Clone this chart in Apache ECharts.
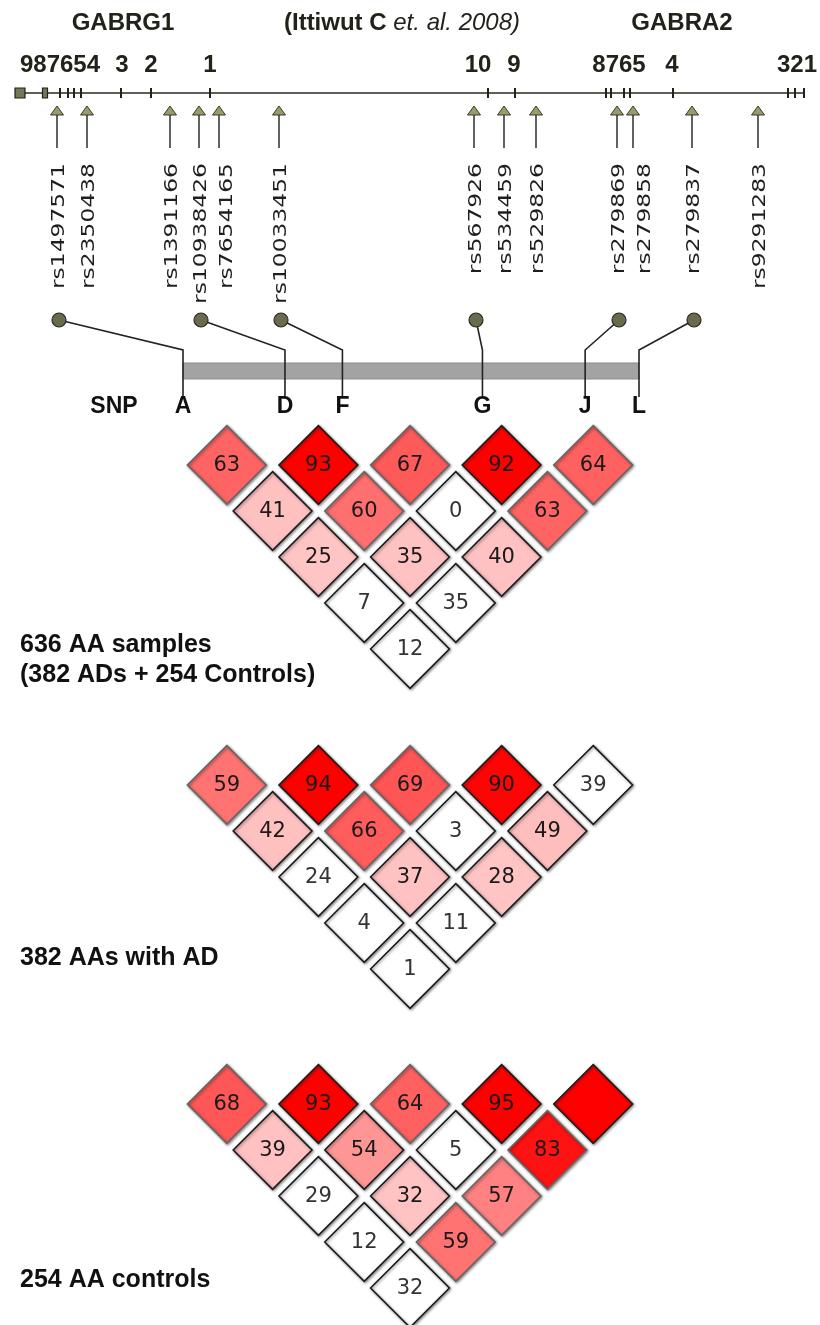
<!DOCTYPE html>
<html>
<head>
<meta charset="UTF-8">
<title>GABRG1 / GABRA2 LD</title>
<script src="https://cdn.jsdelivr.net/npm/echarts@6/dist/echarts.min.js"></script>
<style>
html, body { margin: 0; padding: 0; background: #fff; }
#main { width: 820px; height: 1325px; }
</style>
</head>
<body>
<div id="main"></div>
<script>
// exons on the track (track axis units), widths in the same units
var exonPos = [20, 45, 60, 68, 74, 81, 121, 151, 210, 488, 515, 606, 611, 624, 630, 673, 788, 795, 804];
var exonLen = [10, 5, 2, 2, 2, 2, 2, 2, 2, 2, 2, 2, 2, 2, 2, 2, 2, 2, 2];
var exonGroups = ['987654', '3', '2', '1', '10', '9', '8765', '4', '321'];
var exonGroupPos = [60, 122, 151, 210, 478, 514, 619, 672, 797];

var snpNames = ['rs1497571', 'rs2350438', 'rs1391166', 'rs10938426', 'rs7654165', 'rs10033451',
  'rs567926', 'rs534459', 'rs529826', 'rs279869', 'rs279858', 'rs279837', 'rs9291283'];
var snpPos = [57, 87, 170, 199, 219, 279, 474, 504, 536, 617, 633, 692, 758];

// SNPs kept for the LD plots
var pickedIdx = [0, 3, 5, 6, 9, 11];
var pickedNames = ['A', 'D', 'F', 'G', 'J', 'L'];

// D' x100, row 1 = neighbouring markers ... row 5 = A-L ; 100 = D' 1 (no number)
var dpAll = [[63, 93, 67, 92, 64], [41, 60, 0, 63], [25, 35, 40], [7, 35], [12]];
var sigAll = [[1, 1, 1, 1, 1], [1, 1, 0, 1], [1, 1, 1], [0, 0], [0]];   // 1 = LOD >= 2
var dpAD = [[59, 94, 69, 90, 39], [42, 66, 3, 49], [24, 37, 28], [4, 11], [1]];
var sigAD = [[1, 1, 1, 1, 0], [1, 1, 0, 1], [0, 1, 1], [0, 0], [0]];
var dpCtrl = [[68, 93, 64, 95, 100], [39, 54, 5, 83], [29, 32, 57], [12, 59], [32]];
var sigCtrl = [[1, 1, 1, 1, 1], [1, 1, 0, 1], [0, 1, 1], [0, 1], [0]];

var groupLabels = [['636 AA samples', '(382 ADs + 254 Controls)'], ['382 AAs with AD'], ['254 AA controls']];

// ---- layout
var GENE_Y = 93, EXON_H = 10, EXON_LABEL_Y = 65;
var ARROW_TOP = 106, ARROW_BASE = 115, STEM_END = 148, LABEL_TOP = 163;
var DOT_Y = 320, BEND_Y = 350, BAR_TOP = 363, BAR_BOT = 379, LETTER_Y = 407;
var BAR_L = 183, BAR_R = 639;
var LD_TOPS = [419, 739, 1058];
var LD_LEFT = 181, LD_W = 458, LD_H = 230;
var BOLD = '"Liberation Sans", Arial, sans-serif';
var LD_STOPS = [[0, 205], [49, 190], [54, 150], [59, 115], [63, 100], [70, 82], [83, 18], [92, 0]];

var chart = echarts.init(document.getElementById('main'));

// spread the rotated labels so they do not overlap
var labelX = [];
snpPos.forEach(function (p, k) {
  var x = p + 2;
  if (k > 0 && x < labelX[k - 1] + 26) x = labelX[k - 1] + 26;
  labelX.push(x);
});
var pA = snpPos[pickedIdx[0]], pL = snpPos[pickedIdx[pickedIdx.length - 1]];
function barX(p) {
  return BAR_L + (p - pA) / (pL - pA) * (BAR_R - BAR_L);
}

function ldGreen(v) {
  for (var i = 1; i < LD_STOPS.length; i++) {
    if (v <= LD_STOPS[i][0]) {
      var a = LD_STOPS[i - 1], b = LD_STOPS[i];
      return Math.round(a[1] + (v - a[0]) / (b[0] - a[0]) * (b[1] - a[1]));
    }
  }
  return 0;
}

function ldData(rows, sig) {
  var out = [];
  rows.forEach(function (row, d) {
    row.forEach(function (v, i) {
      out.push([i, i + d + 1, v, sig[d][i]]);
    });
  });
  return out;
}

function renderDiamond(params, api) {
  var i = api.value(0), j = api.value(1), v = api.value(2), s = api.value(3);
  var c = api.coord([(i + j) / 2, (j - i) / 2]);
  var h = api.size([1, 1])[0] * 0.43;
  var g = ldGreen(v);
  var fill = s ? 'rgb(255,' + g + ',' + g + ')' : '#ffffff';
  var stroke = (s && v >= 55 && v < 85) ? '#666' : '#1c1c1c';
  return {
    type: 'group',
    children: [{
      type: 'polygon',
      shape: { points: [[c[0], c[1] - h], [c[0] + h, c[1]], [c[0], c[1] + h], [c[0] - h, c[1]]] },
      style: {
        fill: fill, stroke: stroke, lineWidth: 1.6,
        shadowBlur: 3, shadowColor: 'rgba(0,0,0,0.45)', shadowOffsetX: 1, shadowOffsetY: 1
      }
    }, {
      type: 'text',
      x: c[0], y: c[1] + 1,
      style: {
        text: v >= 100 ? '' : String(v),
        fontSize: 21, fontFamily: '"DejaVu Sans", sans-serif',
        fill: s ? '#1a1a1a' : '#333', align: 'center', verticalAlign: 'middle'
      }
    }]
  };
}

var grids = [{ left: 0, top: 0, width: 820, height: 420 }];
var xAxes = [{ type: 'value', gridIndex: 0, min: 0, max: 820, show: false }];
var yAxes = [{ type: 'value', gridIndex: 0, min: 0, max: 420, inverse: true, show: false }];
LD_TOPS.forEach(function (t, k) {
  grids.push({ left: LD_LEFT, top: t, width: LD_W, height: LD_H });
  xAxes.push({ type: 'value', gridIndex: k + 1, min: 0, max: 5, show: false });
  yAxes.push({ type: 'value', gridIndex: k + 1, min: 0, max: 2.5, inverse: true, show: false });
});

var geneStart = Math.min.apply(null, exonPos.map(function (p, k) { return p - exonLen[k] / 2; }));
var geneEnd = Math.max.apply(null, exonPos.map(function (p, k) { return p + exonLen[k] / 2; }));

var series = [
  { // backbone
    type: 'custom', xAxisIndex: 0, yAxisIndex: 0, z: 2,
    data: [[geneStart, geneEnd]],
    renderItem: function (params, api) {
      var a = api.coord([api.value(0), GENE_Y]), b = api.coord([api.value(1), GENE_Y]);
      return { type: 'line', shape: { x1: a[0], y1: a[1], x2: b[0], y2: b[1] },
        style: { stroke: '#2a2a22', lineWidth: 1.6 } };
    }
  },
  { // exons
    type: 'custom', xAxisIndex: 0, yAxisIndex: 0, z: 3,
    data: exonPos.map(function (p, k) { return [p, exonLen[k]]; }),
    renderItem: function (params, api) {
      var w = api.size([api.value(1), 0])[0];
      var c = api.coord([api.value(0), GENE_Y]);
      var h = EXON_H * api.size([0, 1])[1];
      var box = w > 3;
      return { type: 'rect',
        shape: { x: c[0] - w / 2, y: c[1] - h / 2, width: w, height: h },
        style: { fill: box ? '#76765a' : '#22221a', stroke: '#22221a', lineWidth: box ? 1.2 : 0 } };
    }
  },
  { // exon numbers
    type: 'custom', xAxisIndex: 0, yAxisIndex: 0, z: 3,
    data: exonGroupPos.map(function (p, k) { return [p, k]; }),
    renderItem: function (params, api) {
      var c = api.coord([api.value(0), EXON_LABEL_Y]);
      return { type: 'text', x: c[0], y: c[1],
        style: { text: exonGroups[api.value(1)], fontSize: 24, fontWeight: 'bold', fontFamily: BOLD,
          fill: '#22221a', align: 'center', verticalAlign: 'middle' } };
    }
  },
  { // SNP arrows and names
    type: 'custom', xAxisIndex: 0, yAxisIndex: 0, z: 3,
    data: snpPos.map(function (p, k) { return [p, k]; }),
    renderItem: function (params, api) {
      var k = api.value(1);
      var top = api.coord([api.value(0), ARROW_TOP]);
      var base = api.coord([api.value(0), ARROW_BASE]);
      var end = api.coord([api.value(0), STEM_END]);
      var lab = api.coord([labelX[k], LABEL_TOP]);
      return { type: 'group', children: [
        { type: 'line', shape: { x1: base[0], y1: base[1], x2: end[0], y2: end[1] },
          style: { stroke: '#3a3a3a', lineWidth: 1.6 } },
        { type: 'polygon', shape: { points: [[top[0], top[1]], [top[0] + 6.5, base[1]], [top[0] - 6.5, base[1]]] },
          style: { fill: '#9a9a6a', stroke: '#3a3a2a', lineWidth: 1 } },
        { type: 'text', x: lab[0], y: lab[1], rotation: Math.PI / 2, scaleX: 1.3,
          style: { text: snpNames[k], fontSize: 18, fontFamily: '"DejaVu Sans", sans-serif',
            fill: '#1e1e1e', align: 'right', verticalAlign: 'middle' } }
      ] };
    }
  },
  { // gray region bar
    type: 'custom', xAxisIndex: 0, yAxisIndex: 0, z: 2,
    data: [[pA, pL]],
    renderItem: function (params, api) {
      var a = api.coord([barX(api.value(0)), BAR_TOP]);
      var b = api.coord([barX(api.value(1)), BAR_BOT]);
      return { type: 'rect', shape: { x: a[0], y: a[1], width: b[0] - a[0], height: b[1] - a[1] },
        style: { fill: '#a3a3a3', stroke: '#8c8c8c', lineWidth: 1 } };
    }
  },
  { // picked SNPs: dot, connector, letter
    type: 'custom', xAxisIndex: 0, yAxisIndex: 0, z: 4,
    data: pickedIdx.map(function (s, k) { return [snpPos[s], k]; }),
    renderItem: function (params, api) {
      var k = api.value(1), s = pickedIdx[k];
      var bx = barX(api.value(0));
      var dot = api.coord([labelX[s], DOT_Y]);
      var bend = api.coord([bx, BEND_Y]);
      var low = api.coord([bx, LETTER_Y - 10]);
      var let_ = api.coord([bx, LETTER_Y]);
      return { type: 'group', children: [
        { type: 'polyline', shape: { points: [dot, bend, low] },
          style: { stroke: '#222', lineWidth: 1.6, fill: null } },
        { type: 'circle', shape: { cx: dot[0], cy: dot[1], r: 7 },
          style: { fill: '#6a6a4c', stroke: '#2a2a20', lineWidth: 1.2 } },
        { type: 'text', x: let_[0], y: let_[1],
          style: { text: pickedNames[k], fontSize: 23, fontWeight: 'bold', fontFamily: BOLD,
            fill: '#111', align: 'center', verticalAlign: 'middle' } }
      ] };
    }
  }
];

[[dpAll, sigAll], [dpAD, sigAD], [dpCtrl, sigCtrl]].forEach(function (t, k) {
  series.push({
    type: 'custom', xAxisIndex: k + 1, yAxisIndex: k + 1, z: 3,
    data: ldData(t[0], t[1]),
    renderItem: renderDiamond
  });
});

var graphic = [
  { type: 'text', x: 123, y: 23, style: { text: 'GABRG1', fontSize: 24, fontWeight: 'bold', fontFamily: BOLD,
    fill: '#22221a', align: 'center', verticalAlign: 'middle' } },
  { type: 'text', x: 402, y: 23, style: {
    text: '{b|(Ittiwut C }{i|et. al. 2008)}', align: 'center', verticalAlign: 'middle',
    rich: {
      b: { fontSize: 24, fontWeight: 'bold', fontFamily: BOLD, fill: '#22221a' },
      i: { fontSize: 24, fontStyle: 'italic', fontFamily: BOLD, fill: '#22221a' }
    } } },
  { type: 'text', x: 682, y: 23, style: { text: 'GABRA2', fontSize: 24, fontWeight: 'bold', fontFamily: BOLD,
    fill: '#22221a', align: 'center', verticalAlign: 'middle' } },
  { type: 'text', x: 114, y: LETTER_Y, style: { text: 'SNP', fontSize: 23, fontWeight: 'bold', fontFamily: BOLD,
    fill: '#111', align: 'center', verticalAlign: 'middle' } }
];
var groupY = [[645, 675], [958], [1280]];
groupLabels.forEach(function (lines, k) {
  lines.forEach(function (txt, m) {
    graphic.push({ type: 'text', x: 20, y: groupY[k][m], style: { text: txt, fontSize: 25, fontWeight: 'bold',
      fontFamily: BOLD, fill: '#111', align: 'left', verticalAlign: 'middle' } });
  });
});

chart.setOption({
  animation: false,
  backgroundColor: '#fff',
  grid: grids,
  xAxis: xAxes,
  yAxis: yAxes,
  graphic: graphic,
  series: series
});
</script>
</body>
</html>
